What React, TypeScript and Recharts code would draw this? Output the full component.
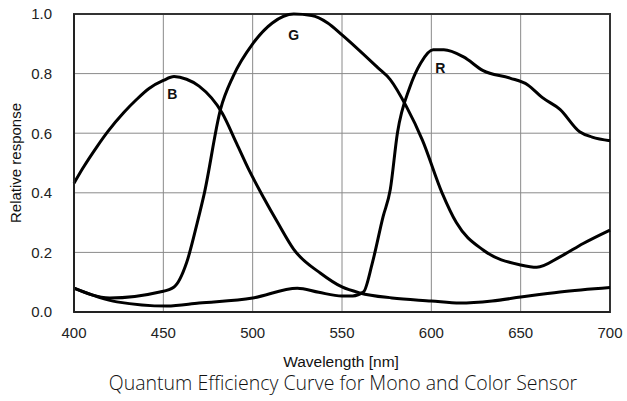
import { LineChart, Line, XAxis, YAxis, CartesianGrid, ReferenceDot, ReferenceArea } from 'recharts';

// wavelength (nm) / relative response pairs
const blueWl = [400, 405, 413, 419, 428, 435, 442, 450, 456, 463, 470, 483, 491, 498, 506, 514, 523, 538, 550, 560, 578, 600, 616, 634, 650, 672, 700];
const blueVal = [0.432, 0.483, 0.556, 0.606, 0.67, 0.713, 0.75, 0.777, 0.79, 0.781, 0.758, 0.667, 0.566, 0.476, 0.385, 0.3, 0.21, 0.13, 0.084, 0.064, 0.047, 0.037, 0.03, 0.037, 0.05, 0.067, 0.082];

const greenWl = [400, 420, 448, 456, 463, 469, 473, 482, 489, 500, 511, 523, 533, 542, 550, 570, 577, 586, 595, 606, 614, 629, 650, 659, 672, 685, 700];
const greenVal = [0.08, 0.047, 0.067, 0.084, 0.165, 0.3, 0.4, 0.68, 0.79, 0.9, 0.97, 1.0, 0.995, 0.97, 0.93, 0.82, 0.78, 0.69, 0.577, 0.4, 0.3, 0.208, 0.158, 0.15, 0.185, 0.23, 0.275];

const redWl = [400, 424, 452, 470, 500, 525, 537, 550, 556, 562, 567, 573, 577, 581, 588, 594, 601, 607, 618, 629, 644, 654, 662, 672, 683, 690, 700];
const redVal = [0.08, 0.034, 0.02, 0.03, 0.047, 0.08, 0.066, 0.054, 0.054, 0.067, 0.165, 0.32, 0.41, 0.6, 0.755, 0.835, 0.88, 0.88, 0.856, 0.81, 0.785, 0.762, 0.72, 0.68, 0.605, 0.587, 0.575];

const xTicks = [400, 450, 500, 550, 600, 650, 700];
const yTicks = [0, 0.2, 0.4, 0.6, 0.8, 1.0];

const curveLabels = [
  { name: 'B', wl: 455, val: 0.73 },
  { name: 'G', wl: 523, val: 0.93 },
  { name: 'R', wl: 605, val: 0.82 },
];

const toRows = (wl: number[], val: number[]) => wl.map((w, i) => ({ wl: w, val: val[i] }));

const series = [toRows(blueWl, blueVal), toRows(greenWl, greenVal), toRows(redWl, redVal)];

const arial = 'Liberation Sans, Arial, sans-serif';
const tickStyle = { fill: '#222', fontSize: 15, fontFamily: arial };

export default function App() {
  return (
    <div style={{ position: 'absolute', left: 0, top: 0, width: 627, height: 401, background: '#fff' }}>
      <LineChart width={627} height={401} margin={{ top: 14, right: 17, bottom: 59, left: 24 }}>
        <CartesianGrid stroke="#8a8a8a" strokeWidth={1} />
        <XAxis
          type="number"
          dataKey="wl"
          domain={[400, 700]}
          ticks={xTicks}
          tickLine={false}
          axisLine={{ stroke: '#222', strokeWidth: 2 }}
          tick={tickStyle}
          tickMargin={9}
          height={30}
          allowDuplicatedCategory={false}
        />
        <YAxis
          type="number"
          dataKey="val"
          domain={[0, 1]}
          ticks={yTicks}
          tickFormatter={(v: number) => v.toFixed(1)}
          tickLine={false}
          axisLine={{ stroke: '#222', strokeWidth: 2 }}
          tick={tickStyle}
          tickMargin={16}
          width={50}
        />
        <ReferenceArea x1={400} x2={700} y1={0} y2={1} fill="none" stroke="#333" strokeWidth={2} ifOverflow="visible" />
        {series.map((rows, i) => (
          <Line
            key={i}
            data={rows}
            dataKey="val"
            type="monotone"
            stroke="#000"
            strokeWidth={3}
            dot={false}
            isAnimationActive={false}
          />
        ))}
        {curveLabels.map((l) => (
          <ReferenceDot
            key={l.name}
            x={l.wl}
            y={l.val}
            r={0}
            stroke="none"
            label={{ value: l.name, position: 'center', fill: '#111', fontSize: 14, fontWeight: 'bold', fontFamily: arial }}
          />
        ))}
      </LineChart>
      <div style={{ position: 'absolute', left: 2, top: 163, transform: 'translate(0, -50%) rotate(-90deg)', transformOrigin: 'center', width: 26, height: 20, display: 'flex', alignItems: 'center', justifyContent: 'center', whiteSpace: 'nowrap', fontFamily: arial, fontSize: 15, color: '#111' }}>
        Relative response
      </div>
      <div style={{ position: 'absolute', left: 74, width: 534, top: 353, textAlign: 'center', fontFamily: arial, fontSize: 15.5, color: '#111' }}>
        Wavelength [nm]
      </div>
      <div style={{ position: 'absolute', left: 0, width: 686, top: 369, textAlign: 'center', fontFamily: 'Open Sans, sans-serif', fontSize: 19.5, fontWeight: 300, color: '#111' }}>
        Quantum Efficiency Curve for Mono and Color Sensor
      </div>
    </div>
  );
}
